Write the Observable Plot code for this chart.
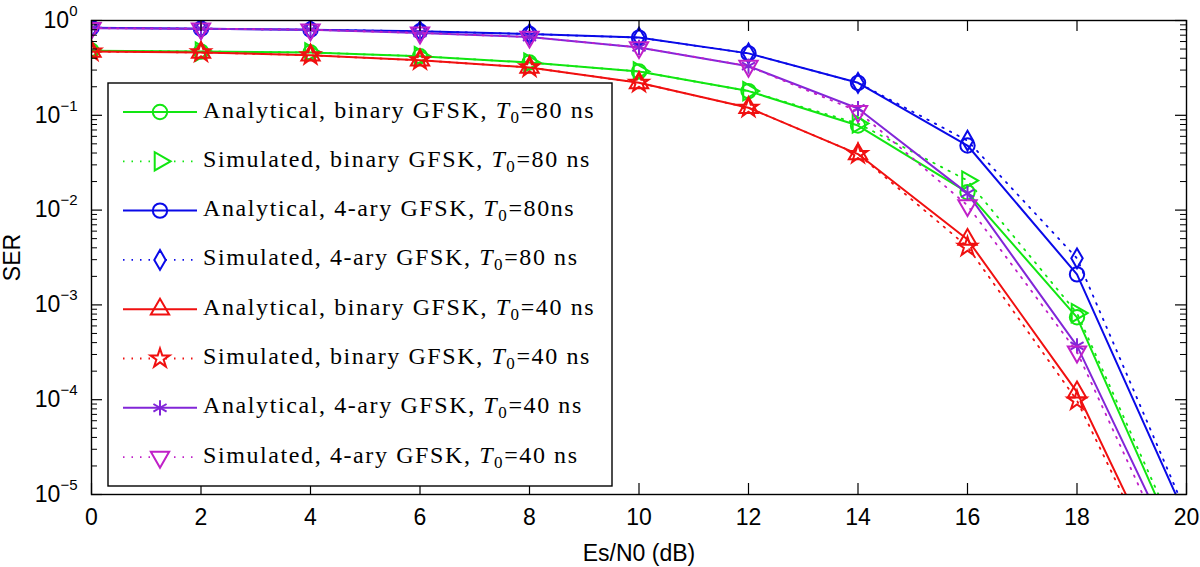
<!DOCTYPE html>
<html><head><meta charset="utf-8">
<script src="https://cdn.jsdelivr.net/npm/d3@7"></script>
<script src="https://cdn.jsdelivr.net/npm/@observablehq/plot@0.6"></script>
<style>
body{margin:0;background:#fff;}
#wrap{position:relative;width:1200px;height:567px;}
#legend{position:absolute;left:0;top:0;pointer-events:none;}
</style></head><body><div id="wrap"></div>
<script>
// ---- data ----
const snr = [0, 2, 4, 6, 8, 10, 12, 14, 16, 18, 20];
const anaBin80 = [0.48, 0.47, 0.46, 0.42, 0.36, 0.29, 0.18, 0.078, 0.0154, 7.4e-4, 1.8e-6];
const simBin80 = [0.48, 0.47, 0.46, 0.42, 0.36, 0.29, 0.18, 0.082, 0.0205, 8.2e-4, 2.2e-6];
const anaQ80   = [0.84, 0.82, 0.80, 0.77, 0.72, 0.66, 0.45, 0.22, 0.048, 0.0021, 5.6e-6];
const simQ80   = [0.84, 0.82, 0.80, 0.77, 0.72, 0.66, 0.45, 0.22, 0.054, 0.0031, 6.3e-6];
const anaBin40 = [0.47, 0.46, 0.43, 0.38, 0.32, 0.22, 0.12, 0.039, 0.0049, 1.2e-4, 4.6e-7];
const simBin40 = [0.47, 0.46, 0.43, 0.38, 0.32, 0.22, 0.12, 0.039, 0.0041, 9.8e-5, 4.0e-7];
const anaQ40   = [0.83, 0.82, 0.80, 0.74, 0.67, 0.52, 0.33, 0.118, 0.015, 3.7e-4, 1.4e-6];
const simQ40   = [0.83, 0.82, 0.80, 0.74, 0.67, 0.52, 0.33, 0.110, 0.0112, 3.2e-4, 1.0e-6];
const legendPrefix = [
  "Analytical, binary GFSK, ", "Simulated, binary GFSK, ",
  "Analytical, 4-ary GFSK, ", "Simulated, 4-ary GFSK, ",
  "Analytical, binary GFSK, ", "Simulated, binary GFSK, ",
  "Analytical, 4-ary GFSK, ", "Simulated, 4-ary GFSK, "];
const legendSuffix = ["=80 ns", "=80 ns", "=80ns", "=80 ns", "=40 ns", "=40 ns", "=40 ns", "=40 ns"];
const xTicks = [0, 2, 4, 6, 8, 10, 12, 14, 16, 18, 20];
const yTicks = [1e-5, 1e-4, 1e-3, 1e-2, 1e-1, 1];
const xLabel = "Es/N0 (dB)";
const yLabel = "SER";

// ---- styles ----
const styles = [
  {values: anaBin80, color: "#12e612", symbol: "circle",   rotate: 0,   r: 7.2, dotted: false},
  {values: simBin80, color: "#12e612", symbol: "triangle", rotate: 90,  r: 6.8, dotted: true},
  {values: anaQ80,   color: "#0a0ae8", symbol: "circle",   rotate: 0,   r: 7.2, dotted: false},
  {values: simQ80,   color: "#0a0ae8", symbol: "diamond",  rotate: 0,   r: 6.0, dotted: true},
  {values: anaBin40, color: "#f01010", symbol: "triangle", rotate: 0,   r: 6.8, dotted: false},
  {values: simBin40, color: "#f01010", symbol: "star",     rotate: 0,   r: 6.0, dotted: true},
  {values: anaQ40,   color: "#8226d8", symbol: "asterisk", rotate: 0,   r: 7.2, dotted: false},
  {values: simQ40,   color: "#c020c8", symbol: "triangle", rotate: 180, r: 6.8, dotted: true}
];

const W = 1200, H = 567, mL = 91, mR = 14, mT = 20, mB = 73;
const pw = W - mL - mR, ph = H - mT - mB;
const majorLen = 11, minorLen = 6;

const minorTicks = [];
yTicks.slice(0, -1).forEach(d => { for (let k = 2; k <= 9; k++) minorTicks.push(d * k); });

const marks = [];
styles.forEach((s, i) => {
  const rows = snr.map((x, j) => ({x, y: s.values[j]}));
  marks.push(Plot.line(rows, {x: "x", y: "y", stroke: s.color, strokeWidth: s.dotted ? 1.8 : 2,
    strokeDasharray: s.dotted ? "1.5,7" : null, clip: true}));
  marks.push(Plot.dot(rows, {x: "x", y: "y", symbol: s.symbol, r: s.r, rotate: s.rotate,
    stroke: s.color, fill: "none", strokeWidth: 2, clip: true}));
});

const chart = Plot.plot({
  width: W, height: H, marginLeft: mL, marginRight: mR, marginTop: mT, marginBottom: mB,
  style: {fontFamily: "'Liberation Sans', Arial, sans-serif", background: "white", color: "black"},
  x: {domain: [0, 20]},
  y: {type: "log", domain: [1e-5, 1]},
  marks: [
    ...marks,
    Plot.tickY(yTicks, {insetRight: pw - majorLen, stroke: "black", strokeWidth: 1.2}),
    Plot.tickY(yTicks, {insetLeft: pw - majorLen, stroke: "black", strokeWidth: 1.2}),
    Plot.tickY(minorTicks, {insetRight: pw - minorLen, stroke: "black", strokeWidth: 1}),
    Plot.tickY(minorTicks, {insetLeft: pw - minorLen, stroke: "black", strokeWidth: 1}),
    Plot.tickX(xTicks, {insetTop: ph - majorLen, stroke: "black", strokeWidth: 1.2}),
    Plot.tickX(xTicks, {insetBottom: ph - majorLen, stroke: "black", strokeWidth: 1.2}),
    Plot.frame({stroke: "black", strokeWidth: 1.4}),
    Plot.axisX({ticks: xTicks, tickSize: 0, tickPadding: 14, fontSize: 23,
      label: xLabel, labelAnchor: "center", labelArrow: "none", labelOffset: 66}),
    Plot.axisY({ticks: yTicks, tickSize: 0, tickPadding: 14, fontSize: 23,
      tickFormat: d => "10|" + Math.round(Math.log10(d)),
      label: yLabel, labelAnchor: "center", labelArrow: "none", labelOffset: 88})
  ]
});

document.getElementById("wrap").appendChild(chart);

// superscript exponents on the y tick labels
chart.querySelectorAll('g[aria-label="y-axis tick label"] text').forEach(t => {
  const [base, exp] = t.textContent.split("|");
  t.textContent = base;
  const ts = document.createElementNS("http://www.w3.org/2000/svg", "tspan");
  ts.setAttribute("dy", "-12");
  ts.setAttribute("font-size", "15");
  ts.textContent = (+exp === 0 ? "0" : "\u2212" + Math.abs(+exp));
  t.appendChild(ts);
});

// ---- legend ----
const leg = d3.select("#wrap").append("svg").attr("id", "legend")
  .attr("width", W).attr("height", H);
leg.append("rect").attr("x", 108).attr("y", 83).attr("width", 504).attr("height", 403)
  .attr("fill", "white").attr("stroke", "black").attr("stroke-width", 1.4);
const symMap = {circle: d3.symbolCircle, triangle: d3.symbolTriangle, diamond: d3.symbolDiamond,
  star: d3.symbolStar, asterisk: d3.symbolAsterisk};
styles.forEach((s, i) => {
  const cy = 112 + i * 49.3;
  const g = leg.append("g");
  g.append("line").attr("x1", 123).attr("x2", 197).attr("y1", cy).attr("y2", cy)
    .attr("stroke", s.color).attr("stroke-width", s.dotted ? 1.8 : 2)
    .attr("stroke-dasharray", s.dotted ? "1.5,7" : null);
  g.append("path").attr("d", d3.symbol(symMap[s.symbol], Math.PI * s.r * s.r)())
    .attr("transform", `translate(160,${cy}) rotate(${s.rotate})`)
    .attr("fill", s.dotted ? "white" : "none").attr("stroke", s.color).attr("stroke-width", 2);
  const t = g.append("text").attr("x", 203).attr("y", cy + 5.5)
    .attr("font-family", "'Liberation Serif', 'Times New Roman', serif").attr("font-size", 24)
    .attr("letter-spacing", "1.6px").attr("fill", "black");
  t.append("tspan").text(legendPrefix[i]);
  t.append("tspan").attr("font-style", "italic").text("T");
  t.append("tspan").attr("font-size", 17).attr("dy", 5).text("0");
  t.append("tspan").attr("dy", -5).text(legendSuffix[i]);
});
</script>
</body></html>
